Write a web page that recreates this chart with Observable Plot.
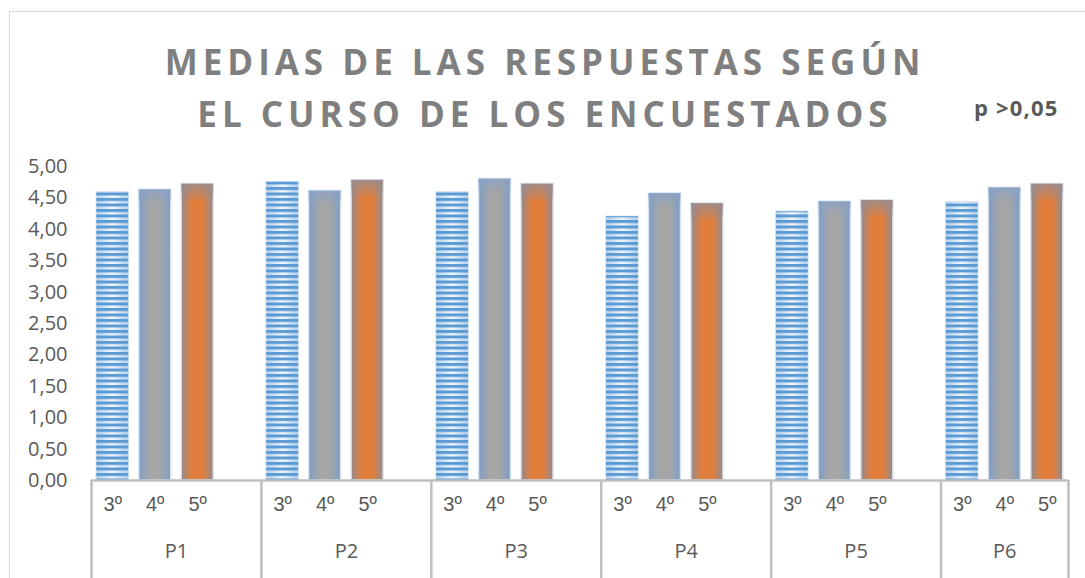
<!DOCTYPE html>
<html><head><meta charset="utf-8">
<script src="https://cdn.jsdelivr.net/npm/d3@7"></script>
<script src="https://cdn.jsdelivr.net/npm/@observablehq/plot@0.6"></script>
<style>
body{margin:0;background:#fff;}
#wrap{position:relative;width:1085px;height:578px;overflow:hidden;font-family:"Open Sans",sans-serif;}
#frame{position:absolute;left:9px;top:11px;width:1300px;height:800px;border:1px solid #d9d9d9;}
#title{position:absolute;left:0;width:1085px;top:36px;padding-left:5px;box-sizing:border-box;text-align:center;color:#7f7f7f;font-weight:700;font-size:35px;letter-spacing:5px;line-height:52px;}
#pval{position:absolute;left:974px;top:96px;font-weight:700;font-size:22px;line-height:22px;letter-spacing:1.2px;color:#595959;white-space:nowrap;}
#chart{position:absolute;left:0;top:0;}
</style></head>
<body>
<div id="wrap">
<div id="frame"></div>
<div id="chart"></div>
<div id="title">MEDIAS DE LAS RESPUESTAS SEGÚN<br>EL CURSO DE LOS ENCUESTADOS</div>
<div id="pval">p &gt;0,05</div>
</div>
<script>
const questions = ["P1","P2","P3","P4","P5","P6"];
const courses = ["3º","4º","5º"];
const values3 = [4.59,4.75,4.59,4.20,4.28,4.43];
const values4 = [4.63,4.61,4.80,4.57,4.44,4.66];
const values5 = [4.72,4.78,4.72,4.41,4.46,4.72];
const yTicks = [0,0.5,1,1.5,2,2.5,3,3.5,4,4.5,5];

const series = [values3, values4, values5];
const nSlots = questions.length * 4 - 1;
const rows = questions.flatMap((q, qi) => courses.map((c, ci) => ({q, c, slot: qi * 4 + ci, value: series[ci][qi]})));
const groups = questions.map((q, qi) => ({q, start: qi * 4, end: Math.min(qi * 4 + 4, nSlots)}));
const dividers = [...groups.map(g => g.start), nSlots];

const x1 = d => d.slot + 0.123, x2 = d => d.slot + 0.877;
const by = c => rows.filter(d => d.c === c);

const svg = Plot.plot({
  width: 1085, height: 578,
  marginLeft: 91, marginRight: 17, marginTop: 166, marginBottom: 98,
  style: {fontFamily: "'Open Sans', sans-serif", color: "#595959", background: "transparent", overflow: "visible"},
  x: {type: "linear", domain: [0, nSlots], axis: null},
  y: {domain: [0, 5], axis: null},
  marks: [
    Plot.axisY({ticks: yTicks, label: null, tickSize: 0, tickPadding: 24, fontSize: 20, tickFormat: d => d.toFixed(2).replace(".", ",")}),
    Plot.rectY(by("3º"), {x1, x2, y: "value", fill: "url(#g3)", stroke: "#d6e4f4", strokeWidth: 1.5}),
    Plot.rectY(by("3º"), {x1, x2, y: "value", fill: "url(#stripes)"}),
    Plot.rectY(by("4º"), {x1, x2, y: "value", fill: "url(#g4)", stroke: "#d6e4f4", strokeWidth: 1.5}),
    Plot.rectY(by("4º"), {x1, x2, y1: d => d.value, y2: d => d.value - 0.25, fill: "url(#t4)"}),
    Plot.rectY(by("5º"), {x1, x2, y: "value", fill: "url(#g5)", stroke: "#d6e4f4", strokeWidth: 1.5}),
    Plot.rectY(by("5º"), {x1, x2, y1: d => d.value, y2: d => d.value - 0.3, fill: "url(#t5)"}),
    Plot.ruleY([0], {stroke: "#bfbfbf", strokeWidth: 2.5}),
    Plot.ruleX(dividers, {x: d => d, y1: 0, y2: -1.7, stroke: "#bfbfbf", strokeWidth: 2.5}),
    Plot.text(rows, {x: d => d.slot + 0.5, text: "c", frameAnchor: "bottom", dy: 30, fontSize: 20, fontFamily: "'Liberation Sans', sans-serif", fill: "#595959"}),
    Plot.text(groups, {x: d => (d.start + d.end) / 2, text: "q", frameAnchor: "bottom", dy: 77, fontSize: 20, fill: "#595959"})
  ]
});

const defs = d3.select(svg).insert("defs", ":first-child");
function hgrad(id, stops) {
  const g = defs.append("linearGradient").attr("id", id).attr("x1", 0).attr("x2", 1).attr("y1", 0).attr("y2", 0);
  stops.forEach(([o, c]) => g.append("stop").attr("offset", o).attr("stop-color", c));
}
function vfade(id, color) {
  const g = defs.append("linearGradient").attr("id", id).attr("x1", 0).attr("x2", 0).attr("y1", 0).attr("y2", 1);
  g.append("stop").attr("offset", 0).attr("stop-color", color).attr("stop-opacity", 0.9);
  g.append("stop").attr("offset", 1).attr("stop-color", color).attr("stop-opacity", 0);
}
hgrad("g3", [[0, "#b4cfeb"], [0.5, "#f4f8fc"], [1, "#b4cfeb"]]);
hgrad("g4", [[0, "#7f9dc6"], [0.35, "#a6a6a6"], [0.65, "#a6a6a6"], [1, "#7f9dc6"]]);
hgrad("g5", [[0, "#95898c"], [0.33, "#e27e3c"], [0.67, "#e27e3c"], [1, "#95898c"]]);
vfade("t4", "#8ba2c4");
vfade("t5", "#9a8b8c");
const pat = defs.append("pattern").attr("id", "stripes").attr("patternUnits", "userSpaceOnUse").attr("width", 10).attr("height", 5.5);
pat.append("rect").attr("width", 10).attr("height", 3).attr("fill", "#5b9bd5");

document.getElementById("chart").appendChild(svg);
</script>
</body></html>
